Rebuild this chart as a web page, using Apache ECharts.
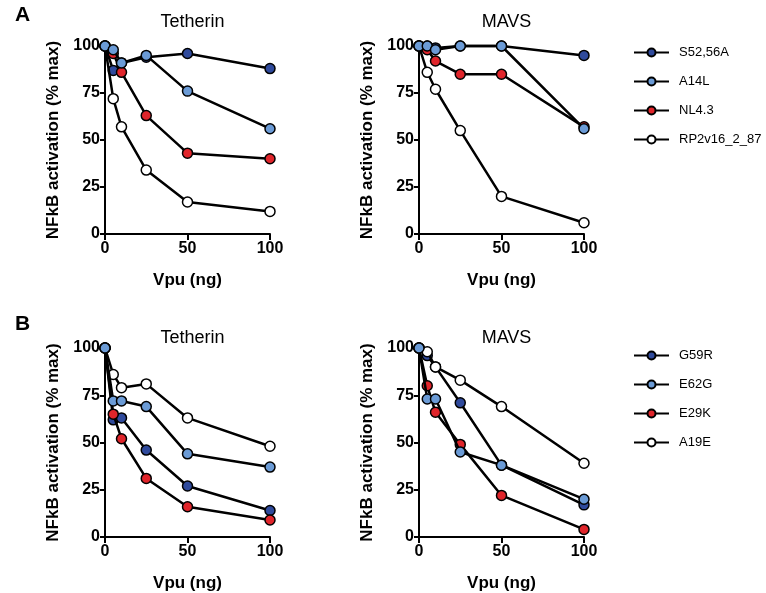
<!DOCTYPE html>
<html>
<head>
<meta charset="utf-8">
<script src="https://cdn.jsdelivr.net/npm/echarts@6/dist/echarts.min.js"></script>
<style>html,body{margin:0;padding:0;background:#fff}#c{width:766px;height:593px}</style>
</head>
<body>
<div id="c"></div>
<script>
const doses = [0, 5, 10, 25, 50, 100];
const xTicks = [0, 50, 100];
const yTicks = [0, 25, 50, 75, 100];

const namesA = ['S52,56A', 'A14L', 'NL4.3', 'RP2v16_2_87'];
const namesB = ['G59R', 'E62G', 'E29K', 'A19E'];

// Panel A - Tetherin
const aTetS52 = [100, 87, 91, 94, 96, 88];
const aTetA14L = [100, 98, 91, 95, 76, 56];
const aTetNL43 = [100, 96, 86, 63, 43, 40];
const aTetRP2 = [100, 72, 57, 34, 17, 12];
// Panel A - MAVS
const aMavS52 = [100, 100, 99, 100, 100, 95];
const aMavA14L = [100, 100, 98, 100, 100, 56];
const aMavNL43 = [100, 98, 92, 85, 85, 57];
const aMavRP2 = [100, 86, 77, 55, 20, 6];
// Panel B - Tetherin
const bTetG59R = [100, 62, 63, 46, 27, 14];
const bTetE62G = [100, 72, 72, 69, 44, 37];
const bTetE29K = [100, 65, 52, 31, 16, 9];
const bTetA19E = [100, 86, 79, 81, 63, 48];
// Panel B - MAVS
const bMavG59R = [100, 96, 90, 71, 38, 17];
const bMavE62G = [100, 73, 73, 45, 38, 20];
const bMavE29K = [100, 80, 66, 49, 22, 4];
const bMavA19E = [100, 98, 90, 83, 69, 39];

const colors = ['#2f4a9c', '#6b9bd6', '#e0252b', '#ffffff'];
const layerOrder = [2, 5, 3, 4]; // dark blue, light blue, red, white (higher = on top)

const grids = [
  {left: 105, top: 46, width: 165, height: 188},
  {left: 419, top: 46, width: 165, height: 188},
  {left: 105, top: 348, width: 165, height: 189},
  {left: 419, top: 348, width: 165, height: 189}
];
const panelTitles = ['Tetherin', 'MAVS', 'Tetherin', 'MAVS'];

const font = 'Liberation Sans, Arial, Helvetica, sans-serif';

const xAxes = grids.map((g, i) => ({
  type: 'value', gridIndex: i, min: 0, max: 100, interval: 50,
  name: 'Vpu (ng)', nameLocation: 'middle', nameGap: 38,
  nameTextStyle: {fontFamily: font, fontWeight: 'bold', fontSize: 17, color: '#000'},
  axisLine: {show: true, lineStyle: {color: '#000', width: 2}},
  axisTick: {show: true, length: 6, lineStyle: {color: '#000', width: 2}},
  axisLabel: {fontFamily: font, fontWeight: 'bold', fontSize: 16, color: '#000', margin: 7,
    formatter: v => xTicks.includes(v) ? String(v) : ''},
  splitLine: {show: false}
}));
const yAxes = grids.map((g, i) => ({
  type: 'value', gridIndex: i, min: 0, max: 100, interval: 25,
  name: 'NFkB activation (% max)', nameLocation: 'middle', nameGap: 43, nameRotate: 90,
  nameTextStyle: {fontFamily: font, fontWeight: 'bold', fontSize: 17, color: '#000'},
  axisLine: {show: true, lineStyle: {color: '#000', width: 2}},
  axisTick: {show: true, length: 5, lineStyle: {color: '#000', width: 2}},
  axisLabel: {fontFamily: font, fontWeight: 'bold', fontSize: 16, color: '#000', margin: 5,
    formatter: v => yTicks.includes(v) ? String(v) : ''},
  splitLine: {show: false}
}));

const panelData = [
  [aTetS52, aTetA14L, aTetNL43, aTetRP2],
  [aMavS52, aMavA14L, aMavNL43, aMavRP2],
  [bTetG59R, bTetE62G, bTetE29K, bTetA19E],
  [bMavG59R, bMavE62G, bMavE29K, bMavA19E]
];

const series = [];
panelData.forEach((arrs, p) => {
  const names = p < 2 ? namesA : namesB;
  arrs.forEach((vals, k) => {
    series.push({
      type: 'line', name: names[k], xAxisIndex: p, yAxisIndex: p,
      data: doses.map((d, j) => [d, vals[j]]),
      symbol: 'circle', symbolSize: 10, clip: false,
      lineStyle: {color: '#000', width: 2.5},
      itemStyle: {color: colors[k], borderColor: '#000', borderWidth: 1.5},
      emphasis: {disabled: true},
      z: layerOrder[k]
    });
  });
});

const titles = grids.map((g, i) => ({
  text: panelTitles[i], left: g.left + g.width / 2, top: i < 2 ? 8 : 324, textAlign: 'center',
  textStyle: {fontFamily: font, fontWeight: 'normal', fontSize: 18, color: '#000'}
}));
titles.push({text: 'A', left: 10, top: 0, textStyle: {fontFamily: font, fontWeight: 'bold', fontSize: 21, color: '#000'}});
titles.push({text: 'B', left: 10, top: 309, textStyle: {fontFamily: font, fontWeight: 'bold', fontSize: 21, color: '#000'}});

const legendCommon = {
  orient: 'vertical', left: 628, itemWidth: 35, itemHeight: 10, itemGap: 16,
  textStyle: {fontFamily: font, fontSize: 13, color: '#000', padding: [0, 0, 0, 5]},
  selectedMode: false
};

const chart = echarts.init(document.getElementById('c'), null, {renderer: 'canvas'});
chart.setOption({
  animation: false,
  backgroundColor: '#fff',
  title: titles,
  grid: grids,
  xAxis: xAxes,
  yAxis: yAxes,
  legend: [
    Object.assign({}, legendCommon, {top: 41, data: namesA}),
    Object.assign({}, legendCommon, {top: 344, data: namesB})
  ],
  series: series
});
</script>
</body>
</html>
